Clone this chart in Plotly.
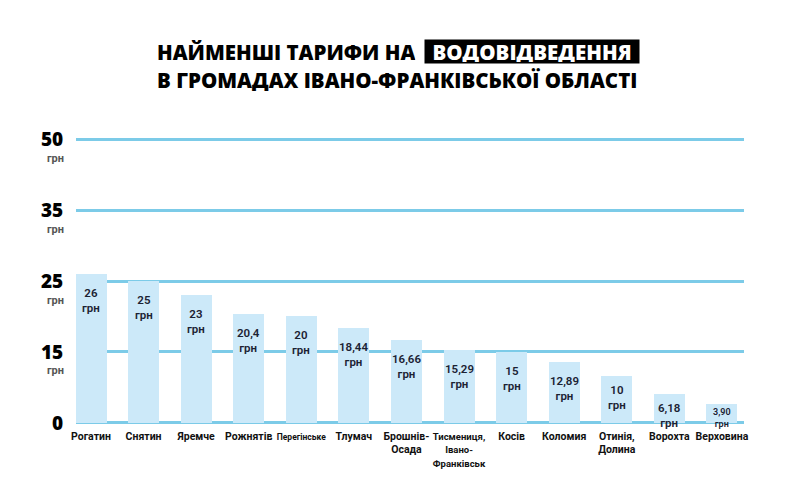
import numpy as np
import plotly.graph_objects as go

# громади і тарифи на водовідведення, грн
hromady = ["Рогатин", "Снятин", "Яремче", "Рожнятів", "<span style='font-size:8.5px'>Перегінське</span>",
           "Тлумач", "Брошнів-<br>Осада", "<span style='font-size:9.5px'>Тисмениця,<br>Івано-<br>Франківськ</span>",
           "Косів", "Коломия", "Отинія,<br>Долина", "Ворохта", "Верховина"]
tariff = [26, 25, 23, 20.4, 20, 18.44, 16.66, 15.29, 15, 12.89, 10, 6.18, 3.90]
tariff_text = ["26", "25", "23", "20,4", "20", "18,44", "16,66", "15,29", "15", "12,89", "10", "6,18", "3,90"]

# the axis on the poster is not linear: gridlines 0/15/25/35/50 are evenly spaced
grid_vals = [0, 15, 25, 35, 50]
grid_pos = [0, 1, 2, 3, 4]

def scale(v):
    return np.interp(v, grid_vals, grid_pos)

FONT = "Roboto"
HEAVY = "Open Sans"
bar_y = scale(tariff)

fig = go.Figure()
fig.add_trace(go.Bar(
    x=list(range(len(hromady))),
    y=bar_y,
    width=0.59,
    marker=dict(color="#cce9f9", line=dict(width=0)),
    hovertext=[t + " грн" for t in tariff_text],
    hoverinfo="text",
))

# value labels inside bars
for i, (v, t) in enumerate(zip(tariff, tariff_text)):
    small = v < 5
    fig.add_annotation(
        x=i, y=scale(v), xref="x", yref="y",
        text=t + "<br>грн",
        showarrow=False, yanchor="top",
        yshift=-1 if small else (-5 if v < 12 else -10),
        font=dict(family=FONT, size=9 if small else 11.5, color="#1b2233", weight=600),
        align="center",
    )

# "грн" under the y tick numbers (not under 0)
for p in grid_pos[1:]:
    fig.add_annotation(
        x=-0.031, y=p, xref="paper", yref="y",
        text="грн", showarrow=False, yshift=-19,
        xanchor="center",
        font=dict(family=FONT, size=11, color="#555555", weight=700),
    )

# title
fig.add_annotation(
    x=0.118, y=1.296, xref="paper", yref="paper",
    text="НАЙМЕНШІ ТАРИФИ НА", showarrow=False,
    xanchor="left", yanchor="middle", height=23,
    font=dict(family=HEAVY, size=20.5, color="#000000", weight=800),
)
fig.add_annotation(
    x=0.6826, y=1.296, xref="paper", yref="paper",
    text="ВОДОВІДВЕДЕННЯ", showarrow=False,
    xanchor="center", yanchor="middle",
    width=212, height=21,
    bgcolor="#000000", borderpad=1,
    font=dict(family=HEAVY, size=20.5, color="#ffffff", weight=800),
)
fig.add_annotation(
    x=0.118, y=1.200, xref="paper", yref="paper",
    text="В ГРОМАДАХ ІВАНО-ФРАНКІВСЬКОЇ ОБЛАСТІ", showarrow=False,
    xanchor="left", yanchor="middle", height=23,
    font=dict(family=HEAVY, size=20.5, color="#000000", weight=800),
)

fig.update_layout(
    width=794, height=496,
    margin=dict(l=76, r=50, t=137, b=71),
    paper_bgcolor="white", plot_bgcolor="white",
    showlegend=False,
    bargap=0,
    xaxis=dict(
        tickmode="array",
        tickvals=list(range(len(hromady))),
        ticktext=hromady,
        tickangle=0,
        range=[-0.285, 12.42],
        showgrid=False, zeroline=False,
        ticks="outside", ticklen=1, tickcolor="rgba(0,0,0,0)",
        tickfont=dict(family=FONT, size=10.5, color="#111111", weight=700),
        fixedrange=True,
    ),
    yaxis=dict(
        tickmode="array",
        tickvals=grid_pos,
        ticktext=[str(g) for g in grid_vals],
        range=[-0.03, 4.03],
        showgrid=True, gridcolor="#7ccbe8", gridwidth=3,
        zeroline=False,
        ticks="outside", ticklen=8, tickcolor="rgba(0,0,0,0)",
        tickfont=dict(family=HEAVY, size=19, color="#000000", weight=800),
        fixedrange=True,
    ),
)

fig.write_html("out.html", config={"displayModeBar": False},
               post_script="document.body.style.margin='0';")
